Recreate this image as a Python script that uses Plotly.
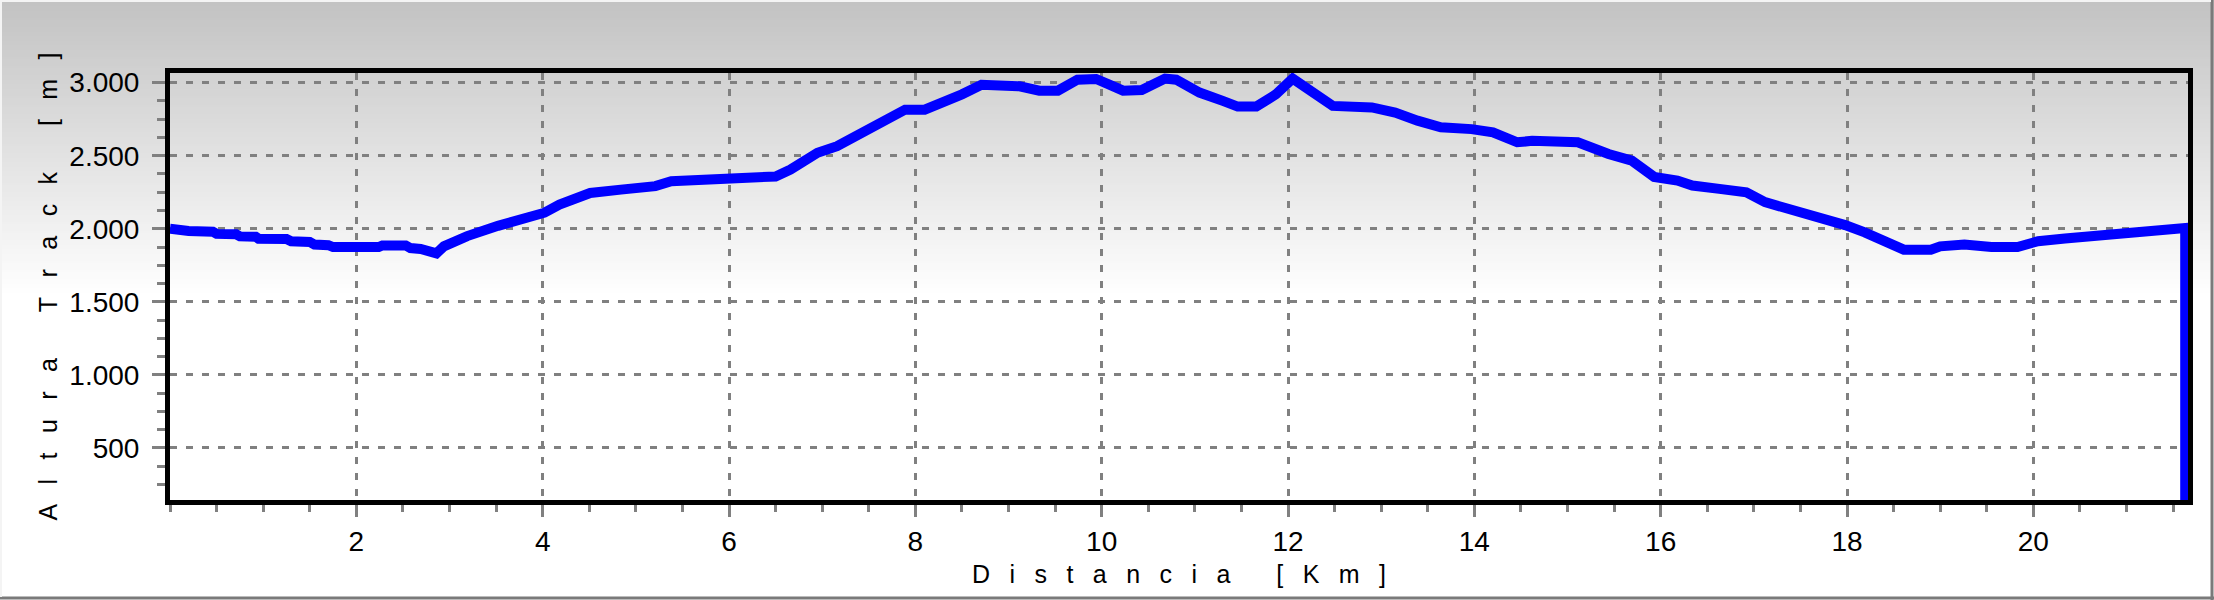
import plotly.graph_objects as go

# ---- data ----
distance_km = [
    0.0, 0.17, 0.2, 0.46, 0.5, 0.71, 0.75, 0.92, 0.95, 1.25, 1.3, 1.5, 1.55, 1.7, 1.75,
    2.24, 2.28, 2.53, 2.58, 2.69, 2.75, 2.86, 2.94, 3.19, 3.52, 3.85, 4.02, 4.18, 4.35,
    4.51, 4.84, 5.21, 5.38, 5.7, 6.0, 6.25, 6.5, 6.66, 6.95, 7.16, 7.36, 7.57, 7.77, 7.89,
    8.1, 8.26, 8.5, 8.71, 9.12, 9.33, 9.53, 9.74, 9.94, 10.07, 10.23, 10.43, 10.68, 10.8,
    11.05, 11.3, 11.46, 11.66, 11.87, 12.05, 12.28, 12.48, 12.9, 13.15, 13.39, 13.64,
    13.97, 14.2, 14.46, 14.62, 15.11, 15.28, 15.44, 15.69, 15.93, 16.18, 16.34, 16.63,
    16.92, 17.12, 17.45, 17.66, 17.98, 18.19, 18.39, 18.5, 18.61, 18.9, 19.0, 19.26,
    19.55, 19.83, 20.05, 20.34, 20.63, 20.91, 21.2, 21.42, 21.63, 21.63,
]
altitude_m = [
    2000, 2000, 1985, 1980, 1965, 1962, 1948, 1945, 1932, 1930, 1914, 1910, 1892, 1888, 1875,
    1875, 1886, 1886, 1868, 1862, 1845, 1832, 1880, 1950, 2020, 2085, 2110, 2165, 2210,
    2245, 2268, 2292, 2325, 2330, 2340, 2355, 2358, 2405, 2520, 2565, 2635, 2700, 2770, 2815,
    2815, 2850, 2920, 2985, 2975, 2945, 2945, 3020, 3025, 2990, 2945, 2950, 3028, 3020,
    2932, 2875, 2836, 2836, 2920, 3028, 2932, 2841, 2830, 2795, 2740, 2695,
    2682, 2660, 2592, 2602, 2592, 2545, 2512, 2466, 2355, 2330, 2296, 2273,
    2250, 2182, 2128, 2090, 2025, 1975, 1925, 1880, 1857, 1857, 1880, 1893,
    1875, 1875, 1915, 1934, 1953, 1974, 1988, 2005, 2005, 140,
]

x_tick_values = [2, 4, 6, 8, 10, 12, 14, 16, 18, 20]
x_tick_labels = ["2", "4", "6", "8", "10", "12", "14", "16", "18", "20"]
y_tick_values = [500, 1000, 1500, 2000, 2500, 3000]
y_tick_labels = ["500", "1.000", "1.500", "2.000", "2.500", "3.000"]

x_title = "Distancia [Km]"
y_title = "Altura Track [m]"

# ---- styling ----
W, H = 2214, 600
ML, MR, MT, MB = 170, 26, 73, 100
PH = H - MT - MB
PW = W - ML - MR
FONT = "Liberation Sans, Arial, sans-serif"
SEP = "\u2002\u00a0"


def spaced(text):
    return SEP.join("\u00a0" if c == " " else c for c in text)


def py(ypx):
    return (H - MB - ypx) / PH


def px(xpx):
    return (xpx - ML) / PW


# vertical grey-to-white gradient behind everything
shapes = []
GRAD_END = 296
STEP = 3
for y0 in range(0, GRAD_END, STEP):
    t = (y0 + STEP / 2) / GRAD_END
    v = int(round(194 + (255 - 194) * t))
    shapes.append(dict(
        type="rect", xref="paper", yref="paper", layer="below",
        x0=px(-5), x1=px(W + 5), y0=py(y0 + STEP + 0.5), y1=py(y0 - 0.5),
        fillcolor=f"rgb({v},{v},{v})", line=dict(width=0),
    ))

# raised panel border
shapes += [
    dict(type="line", xref="paper", yref="paper", layer="above",
         x0=px(W - 2), x1=px(W - 2), y0=py(H + 2), y1=py(-2),
         line=dict(color="#7a7a7a", width=3)),
    dict(type="line", xref="paper", yref="paper", layer="above",
         x0=px(-2), x1=px(W + 2), y0=py(H - 2), y1=py(H - 2),
         line=dict(color="#7a7a7a", width=3)),
    dict(type="line", xref="paper", yref="paper", layer="above",
         x0=px(-2), x1=px(W - 3), y0=py(1), y1=py(1),
         line=dict(color="#f4f4f4", width=2)),
    dict(type="line", xref="paper", yref="paper", layer="above",
         x0=px(1), x1=px(1), y0=py(H - 3), y1=py(-2),
         line=dict(color="#f4f4f4", width=2)),
]

fig = go.Figure()
fig.add_trace(go.Scatter(
    x=distance_km, y=altitude_m, mode="lines",
    line=dict(color="#0000ff", width=10),
    showlegend=False, hoverinfo="skip",
))

grid_common = dict(
    showgrid=True, gridcolor="#808080", gridwidth=2.5, griddash="7px,9px",
    zeroline=False, showline=True, linecolor="black", linewidth=5, mirror=True,
    ticks="outside", tickcolor="#808080", tickwidth=2.5,
    tickfont=dict(family=FONT, size=28, color="black"),
)

fig.update_layout(
    width=W, height=H,
    margin=dict(l=ML, r=MR, t=MT, b=MB),
    paper_bgcolor="white",
    plot_bgcolor="rgba(0,0,0,0)",
    shapes=shapes,
    xaxis=dict(
        range=[0, 21.66], tickmode="array", tickvals=x_tick_values, ticktext=x_tick_labels,
        ticklen=12, ticklabelstandoff=0,
        minor=dict(tickmode="linear", tick0=0, dtick=0.5, ticks="outside", ticklen=7,
                   tickcolor="#808080", tickwidth=2.5, showgrid=False),
        title=dict(text=spaced(x_title), font=dict(family=FONT, size=25, color="black"),
                   standoff=11),
        **grid_common,
    ),
    yaxis=dict(
        range=[144, 3066], tickmode="array", tickvals=y_tick_values, ticktext=y_tick_labels,
        ticklen=13, ticklabelstandoff=7,
        minor=dict(tickmode="linear", tick0=0, dtick=125, ticks="outside", ticklen=8,
                   tickcolor="#808080", tickwidth=2.5, showgrid=False),
        title=dict(text=spaced(y_title), font=dict(family=FONT, size=25, color="black"),
                   standoff=6),
        **grid_common,
    ),
)

fig.write_html(
    "out.html",
    config={"displayModeBar": False},
    post_script="document.body.style.margin='0px';document.body.style.overflow='hidden';",
)
